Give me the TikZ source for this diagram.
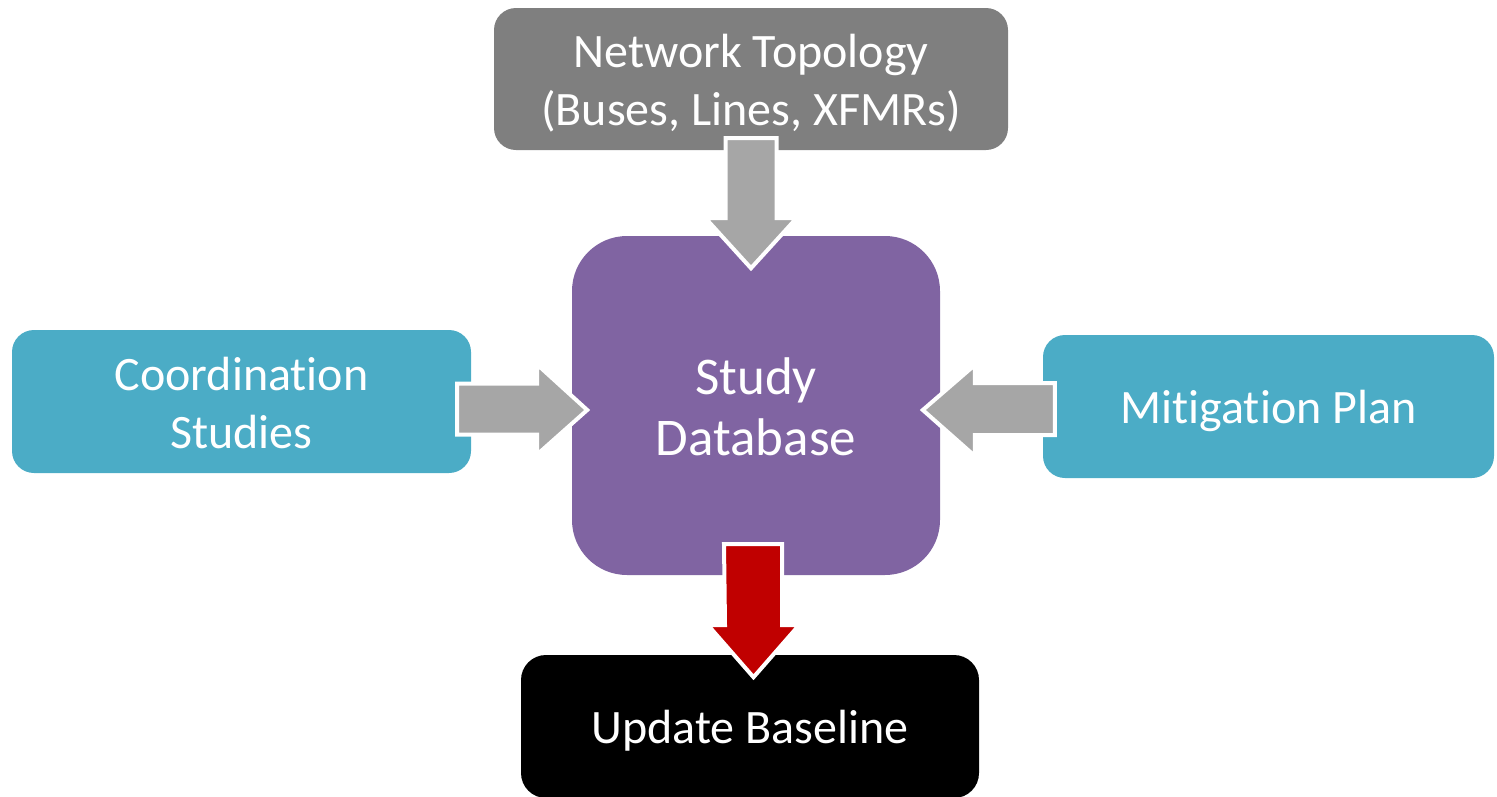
\documentclass[tikz,border=0pt]{standalone}
\usepackage{fontspec}
\setmainfont{Carlito}[Ligatures={NoCommon,NoContextual}]
\definecolor{topogray}{HTML}{7F7F7F}
\definecolor{dbpurple}{HTML}{8064A2}
\definecolor{inblue}{HTML}{4BACC6}
\definecolor{arrowgray}{HTML}{A6A6A6}
\definecolor{outred}{HTML}{C00000}
\begin{document}
\begin{tikzpicture}[x=1pt,y=-1pt,
  box/.style={rectangle, inner sep=0pt},
  boxtext/.style={inner sep=0pt, align=center, text=white,
    font=\fontsize{48}{58}\selectfont, yshift=-4pt},
  bigtext/.style={boxtext, font=\fontsize{53}{61}\selectfont, yshift=3pt},
  blockarrow/.style={draw=white, line width=4pt, line join=miter}]
\useasboundingbox (0,0) rectangle (1497,796);

% boxes
\node[box, fill=topogray, rounded corners=22pt, minimum width=514pt, minimum height=142pt,
  label={[boxtext]center:{Network Topology\\(Buses, Lines, XFMRs)}}]
  (topo) at (751,79) {};
\node[box, fill=dbpurple, rounded corners=55pt, minimum width=368pt, minimum height=339pt,
  label={[bigtext]center:{Study\\Database}}]
  (db) at (756,405.5) {};
\node[box, fill=inblue, rounded corners=22pt, minimum width=459pt, minimum height=143pt,
  label={[boxtext, yshift=2.5pt]center:{Coordination\\Studies}}]
  (coord) at (241.5,401.5) {};
\node[box, fill=inblue, rounded corners=22pt, minimum width=451pt, minimum height=143pt,
  label={[boxtext]center:{Mitigation Plan}}]
  (mit) at (1268.5,406.5) {};
\node[box, fill=black, rounded corners=25pt, minimum width=458pt, minimum height=143pt,
  label={[boxtext]center:{Update Baseline}}]
  (upd) at (750,726.5) {};

% topology -> database
\begin{scope}[shift={(topo.south)}]
  \filldraw[blockarrow, fill=arrowgray]
    (-25.5,-12) -- (25.5,-12) -- (25.5,68) -- (45.5,68) -- (0,118)
    -- (-45.5,68) -- (-25.5,68) -- cycle;
\end{scope}

% coordination studies -> database
\begin{scope}[shift={(coord.east)}]
  \filldraw[blockarrow, fill=arrowgray]
    (-14,-18) -- (66,-18) -- (66,-37) -- (116,8.5) -- (66,53)
    -- (66,33) -- (-14,33) -- cycle;
\end{scope}

% mitigation plan -> database
\begin{scope}[shift={(mit.west)}]
  \filldraw[blockarrow, fill=arrowgray]
    (12,-23.5) -- (-68,-23.5) -- (-68,-41.5) -- (-120,3.5) -- (-68,49.5)
    -- (-68,28.5) -- (12,28.5) -- cycle;
\end{scope}

% database -> update baseline
\begin{scope}[shift={(db.south)}]
  \filldraw[blockarrow, fill=outred]
    (-32,-31) -- (26,-31) -- (26,50) -- (43,50) -- (-2.5,102)
    -- (-48,50) -- (-31,50) -- cycle;
\end{scope}
\end{tikzpicture}
\end{document}
